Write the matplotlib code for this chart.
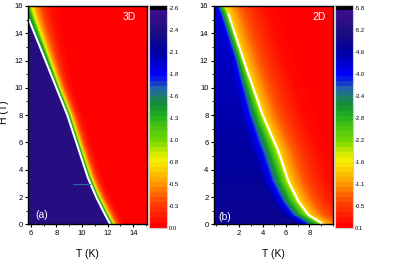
import numpy as np
import matplotlib
matplotlib.use("Agg")
import matplotlib.pyplot as plt
from matplotlib.colors import LinearSegmentedColormap, Normalize
from matplotlib.cm import ScalarMappable
from matplotlib.ticker import MultipleLocator

plt.rcParams['font.family'] = ['Liberation Sans', 'DejaVu Sans']

# --- data ---
# (a) 3D: phase boundary (white line)
H_3d = [0.0, 0.7, 2.0, 3.4, 8.0, 15.0]
T_3d = [12.2, 11.8, 11.1, 10.46, 8.85, 5.85]
# same boundary, carried to the top edge for the colour field
H_3d_field = [0.0, 0.7, 2.0, 3.4, 8.0, 15.0, 16.5]
T_3d_field = [12.2, 11.8, 11.1, 10.46, 8.85, 5.85, 5.3]
# value across the boundary (offset in K)
d_3d = [-0.05, 0.0, 0.15, 0.28, 0.45, 0.7, 1.0, 1.4]
v_3d = [-2.42, -1.6, -1.3, -0.8, -0.5, -0.25, -0.08, 0.0]
# transition width vs H
Hw_3d = [0, 6, 10, 16]
w_3d = [0.9, 0.9, 1.0, 2.0]
# short artefact line inside the 3D map
art_T = [9.3, 10.6]
art_H = [2.95, 2.95]

# (b) 2D: phase boundary
H_2d = [0.07, 0.68, 1.66, 3.13, 5.34, 8.04, 11.7, 15.39]
T_2d = [9.08, 7.94, 7.09, 6.23, 5.37, 4.0, 2.51, 1.09]
H_2d_field = H_2d + [16.5]
T_2d_field = T_2d + [0.5]
d_2d = [-2.3, -1.5, -1.0, -0.7, -0.35, -0.1, 0.0, 0.4, 1.2, 2.3, 3.5, 5.0]
v_2d_bot = [-4.9, -4.1, -3.3, -2.8, -2.3, -1.8, -1.6, -1.2, -0.7, -0.3, 0.0, 0.1]
v_2d_top = [-4.3, -4.0, -3.3, -2.8, -2.3, -1.8, -1.6, -1.2, -0.7, -0.3, 0.0, 0.1]
Hw_2d = [0, 5.6, 12, 16]
wneg_2d = [1.0, 1.0, 0.5, 0.45]

# colour bar labels
cb_ticks_3d = np.linspace(-2.6, 0.0, 11)
cb_labels_3d = ['-2.6', '-2.4', '-2.1', '-1.8', '-1.6', '-1.3', '-1.0', '-0.8', '-0.5', '-0.3', '0.0']
cb_ticks_2d = np.linspace(-5.8, 0.1, 11)
cb_labels_2d = ['-5.8', '-5.2', '-4.6', '-4.0', '-3.4', '-2.8', '-2.2', '-1.6', '-1.1', '-0.5', '0.1']

# Origin-like rainbow
cmap = LinearSegmentedColormap.from_list('origin_rainbow', [
    (0.0, '#000000'), (0.015, '#3c0c8c'), (0.11, '#1e0e7e'), (0.2, '#0000a0'),
    (0.31, '#0000ff'), (0.37, '#2060b0'), (0.41, '#20806a'), (0.45, '#109030'),
    (0.5, '#20b020'), (0.56, '#50c810'), (0.61, '#70d800'), (0.66, '#c8e800'),
    (0.705, '#f8f000'), (0.8, '#ffa000'), (0.9, '#ff4000'), (1.0, '#ff0000')])

fig = plt.figure(figsize=(3.99, 2.59), dpi=100)
ax1 = fig.add_axes([0.0709, 0.134, 0.2967, 0.843])
cax1 = fig.add_axes([0.374, 0.121, 0.0436, 0.860])
ax2 = fig.add_axes([0.5363, 0.134, 0.2975, 0.843])
cax2 = fig.add_axes([0.8396, 0.121, 0.0444, 0.860])

# 3D field
T = np.linspace(5.8, 15.05, 400)
H = np.linspace(0, 16, 400)
TT, HH = np.meshgrid(T, H)
d = (TT - np.interp(HH, H_3d_field, T_3d_field)) / np.interp(HH, Hw_3d, w_3d)
Z1 = np.interp(d, d_3d, v_3d)
norm1 = Normalize(-2.64, 0.0)
ax1.imshow(Z1, origin='lower', extent=[5.8, 15.05, 0, 16], aspect='auto',
           cmap=cmap, norm=norm1, interpolation='bilinear')
ax1.plot(T_3d, H_3d, color='white', lw=1.5, solid_capstyle='round', solid_joinstyle='round')
ax1.plot(art_T, art_H, color='#2a6a9a', lw=0.8)
ax1.set_xlim(5.8, 15.05)
ax1.set_ylim(0, 16)
ax1.text(6.32, 0.68, '(a)', color='white', fontsize=7.5, ha='left', va='center')
ax1.text(13.73, 15.2, '3D', color='white', fontsize=7.5, ha='center', va='center')

# 2D field
T = np.linspace(-0.15, 10.0, 400)
TT, HH = np.meshgrid(T, H)
d = TT - np.interp(HH, H_2d_field, T_2d_field)
d = np.where(d < 0, d / np.interp(HH, Hw_2d, wneg_2d), d)
frac = HH / 16.0
Z2 = np.interp(d, d_2d, v_2d_bot) * (1 - frac) + np.interp(d, d_2d, v_2d_top) * frac
norm2 = Normalize(-5.89, 0.1)
ax2.imshow(Z2, origin='lower', extent=[-0.15, 10.0, 0, 16], aspect='auto',
           cmap=cmap, norm=norm2, interpolation='bilinear')
ax2.plot(T_2d, H_2d, color='white', lw=1.5, solid_capstyle='round', solid_joinstyle='round')
ax2.set_xlim(-0.15, 10.0)
ax2.set_ylim(0, 16)
ax2.set_xticks([2, 4, 6, 8])
ax2.text(0.25, 0.53, '(b)', color='white', fontsize=7.5, ha='left', va='center')
ax2.text(8.85, 15.2, '2D', color='white', fontsize=7.5, ha='center', va='center')

for ax in (ax1, ax2):
    ax.xaxis.set_minor_locator(MultipleLocator(1))
    ax.yaxis.set_major_locator(MultipleLocator(2))
    ax.yaxis.set_minor_locator(MultipleLocator(1))
    ax.tick_params(which='major', direction='out', length=2.5, width=0.8, labelsize=5.5, pad=1.5)
    ax.tick_params(which='minor', direction='out', length=1.5, width=0.6)
    for s in ax.spines.values():
        s.set_linewidth(1.0)
    ax.set_xlabel('T (K)', fontsize=7.5)
    ax.xaxis.set_label_coords(0.5, -0.115)
ax1.set_ylabel('H (T)', fontsize=7.5)
ax1.yaxis.set_label_coords(-0.167, 0.514)

# colour bars, drawn in steps
for cax, norm, ticks, labels in ((cax1, norm1, cb_ticks_3d, cb_labels_3d),
                                 (cax2, norm2, cb_ticks_2d, cb_labels_2d)):
    sm = ScalarMappable(norm=norm, cmap=cmap.resampled(44))
    cb = fig.colorbar(sm, cax=cax)
    cb.set_ticks(ticks)
    cb.set_ticklabels(labels)
    cax.invert_yaxis()
    cax.tick_params(length=0, labelsize=4.2, pad=1.5)
    cb.outline.set_edgecolor('#cccccc')
    cb.outline.set_linewidth(0.8)

fig.savefig('out.png', dpi=100)
